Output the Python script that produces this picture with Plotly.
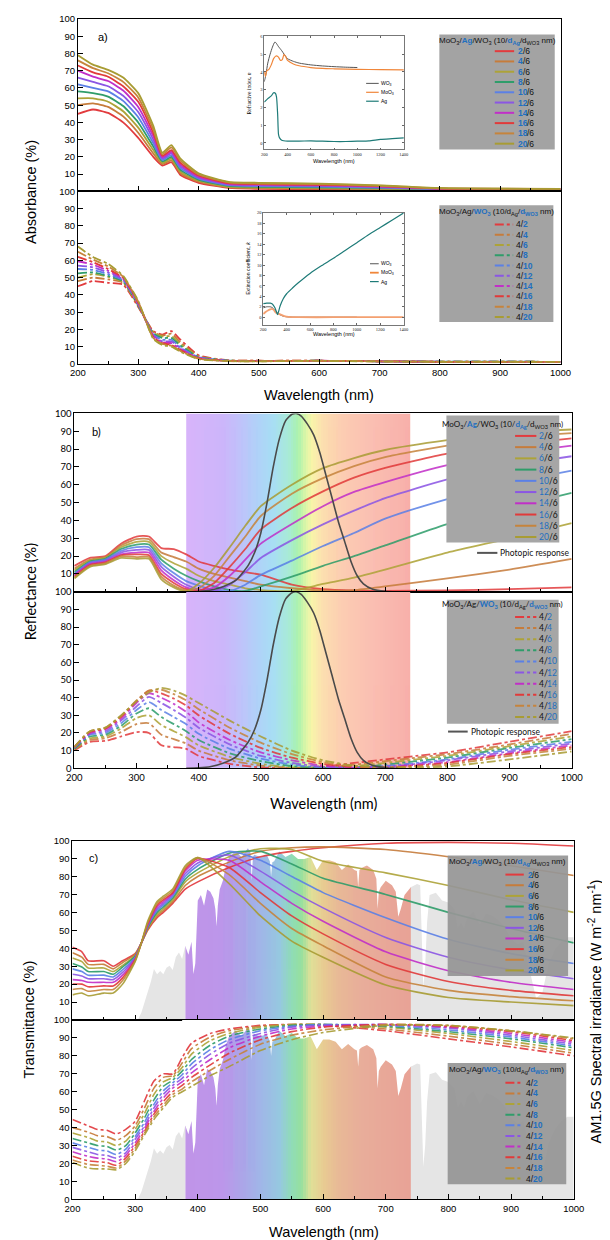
import plotly.graph_objects as go

W, H = 610, 1240
BLUE = '#1f6fc0'
SANS = 'Liberation Sans, Arial, sans-serif'
CAL = 'Lato, Open Sans, sans-serif'

# ---------------- data ----------------
d_ag = [2, 4, 6, 8, 10, 12, 14, 16, 18, 20]
d_wo3 = [2, 4, 6, 8, 10, 12, 14, 16, 18, 20]

# a) absorbance, varying Ag
wl_a = [200, 225, 250, 275, 300, 325, 340, 355, 370, 400, 450, 500, 600, 700, 800, 1000]
abs_ag = [
    [45, 47.5, 45.5, 40, 31, 20, 15, 16.9, 9.5, 5, 2, 1.5, 1.2, 1, 0.8, 0.7],
    [50, 51, 49, 43.5, 34, 22, 15.8, 18, 10.5, 5.6, 2.4, 1.9, 1.6, 1.3, 1, 0.8],
    [54, 54, 52, 46.5, 37, 24, 16.6, 19, 11.5, 6.2, 2.8, 2.3, 2, 1.6, 1.2, 0.9],
    [58, 57, 55, 49.5, 40, 26, 17.4, 20, 12.5, 6.8, 3.2, 2.7, 2.4, 1.9, 1.3, 1],
    [62, 60, 58, 52.5, 43, 28, 18.2, 21, 13.5, 7.4, 3.6, 3.1, 2.8, 2.2, 1.4, 1.1],
    [66, 63.5, 61, 55.5, 46, 30, 19, 22, 14.5, 8, 4, 3.5, 3.2, 2.5, 1.5, 1.2],
    [70, 66.5, 64, 58.5, 49, 32, 19.8, 23, 15.5, 8.6, 4.4, 3.9, 3.5, 2.8, 1.6, 1.3],
    [73, 69, 66.5, 61, 52, 34, 20.6, 24, 16.5, 9.2, 4.8, 4.2, 3.8, 3.1, 1.7, 1.4],
    [76, 71.5, 68.5, 63.5, 54.5, 36, 21.5, 25.5, 17.8, 9.8, 5.2, 4.6, 4.2, 3.3, 1.8, 1.5],
    [79, 73.5, 70.5, 66, 57, 38, 22.5, 26.8, 19, 10.5, 5.5, 5, 4.5, 3.5, 2, 1.5],
]
# a) absorbance, varying WO3
abs_wo3 = [
    [45, 48, 47, 46, 33, 19, 17, 19, 14, 5, 2, 1.8, 1.8, 1.5, 1.3, 1.2],
    [48, 50, 49, 47, 33.5, 18.5, 16.5, 17.5, 12.5, 4.5, 2, 1.8, 1.8, 1.5, 1.3, 1.2],
    [50, 52, 50.5, 47.5, 34, 18, 16, 16, 11.5, 4.2, 1.9, 1.7, 1.8, 1.5, 1.3, 1.2],
    [52.5, 53, 51, 48, 34, 17.5, 15, 15, 10.5, 4, 1.9, 1.7, 1.8, 1.5, 1.3, 1.2],
    [55, 54.5, 52, 48.5, 34.5, 17, 14, 14, 9.5, 3.8, 1.8, 1.7, 1.8, 1.5, 1.3, 1.2],
    [57, 56, 53, 49, 35, 16.5, 13, 13, 9, 3.6, 1.8, 1.6, 1.8, 1.5, 1.2, 1.1],
    [59.5, 57.5, 54, 49.5, 35, 16, 12.5, 12, 8.5, 3.4, 1.7, 1.6, 1.8, 1.5, 1.2, 1.1],
    [62, 59, 55, 50, 35.5, 15.5, 12, 11, 8, 3.2, 1.7, 1.6, 1.8, 1.5, 1.2, 1.1],
    [65, 60.5, 56.5, 50.5, 36, 15, 11.5, 10.5, 7.5, 3, 1.6, 1.5, 1.8, 1.5, 1.2, 1.1],
    [68, 62, 58, 51, 36.5, 14.5, 11, 10, 7, 2.8, 1.6, 1.5, 1.7, 1.4, 1.2, 1.1],
]

# insets: refractive index n and extinction coefficient k
n_wl_wo3 = [200, 215, 230, 250, 270, 290, 300, 320, 350, 400, 450, 500, 600, 700, 800, 900, 1000]
n_wo3 = [3.45, 3.9, 4.5, 5.0, 5.4, 5.68, 5.65, 5.45, 5.2, 4.75, 4.6, 4.5, 4.4, 4.34, 4.3, 4.27, 4.25]
n_wl_moo3 = [200, 210, 220, 240, 260, 280, 300, 320, 340, 355, 370, 385, 400, 450, 500, 600, 700, 800, 1000, 1200, 1400]
n_moo3 = [4.0, 3.75, 4.05, 4.15, 4.4, 4.75, 4.9, 4.85, 4.65, 4.7, 5.0, 4.85, 4.65, 4.45, 4.35, 4.25, 4.2, 4.18, 4.15, 4.13, 4.12]
n_wl_ag = [200, 230, 260, 280, 295, 305, 315, 322, 330, 350, 400, 500, 600, 700, 800, 900, 1000, 1100, 1200, 1300, 1400]
n_ag = [2.3, 2.5, 2.65, 2.83, 2.8, 2.6, 1.6, 0.5, 0.3, 0.15, 0.1, 0.1, 0.12, 0.1, 0.08, 0.08, 0.1, 0.12, 0.2, 0.24, 0.28]
k_wl_ag = [200, 230, 260, 280, 300, 315, 322, 330, 345, 370, 400, 450, 500, 600, 700, 800, 900, 1000, 1100, 1200, 1300, 1400]
k_ag = [2.6, 2.7, 2.7, 2.5, 1.8, 0.9, 0.5, 1.0, 2.2, 3.5, 4.5, 5.6, 6.6, 8.4, 9.9, 11.3, 12.8, 14.3, 15.8, 17.2, 18.6, 20.0]
k_wl_wo3 = [200, 230, 260, 280, 300, 320, 340, 370, 400, 450, 500, 700, 1000]
k_wo3 = [1.8, 2.0, 2.0, 1.8, 1.3, 0.8, 0.5, 0.2, 0.08, 0.02, 0, 0, 0]
k_wl_moo3 = [200, 220, 240, 260, 275, 290, 305, 320, 340, 360, 380, 400, 450, 500, 800, 1100, 1400]
k_moo3 = [0.6, 1.0, 1.3, 1.5, 1.6, 1.4, 0.9, 0.8, 0.6, 0.4, 0.2, 0.1, 0.03, 0, 0, 0, 0]

# b) reflectance
wl_b = [200, 225, 250, 275, 300, 320, 340, 360, 380, 400, 425, 450, 475, 500, 550, 600, 650, 700, 800, 900, 1000]
refl_ag = [
    [14.5, 19, 20, 27, 31, 31, 24.5, 24, 21, 17, 14.5, 12.5, 11, 9.6, 4, 1.5, 0.7, 0.5, 0.8, 1.5, 2.5],
    [13, 18, 19.5, 26, 29.5, 29.5, 22, 19.5, 17, 13, 10, 8, 6, 4, 2, 0.8, 1, 3, 7.5, 12.5, 18.5],
    [12, 17.5, 19, 25, 28, 28, 20, 16, 13, 9, 6, 4, 2, 1, 0.5, 4.4, 8, 12.5, 22, 30, 38.5],
    [11, 17, 18.5, 24, 26.5, 26.5, 18, 13, 9, 6, 3, 1, 0.5, 3, 8.5, 14.6, 20, 26, 38, 47, 55.5],
    [10, 16.5, 18, 23, 25, 25, 16, 10.5, 6, 3.5, 1, 0.5, 4, 9.5, 17.5, 25.7, 33, 41, 52, 61, 68],
    [9.5, 16, 17.5, 22, 23.5, 23.5, 14, 8.5, 4, 1.5, 0.5, 4, 11, 19, 29, 37.8, 45.5, 52.5, 63, 70.5, 76],
    [9, 15.5, 17, 21, 22, 22, 12, 6.5, 2.5, 0.8, 2.5, 9, 18, 27, 38, 48, 56, 61.5, 71, 77.5, 82],
    [8.5, 15, 16.5, 20.5, 21, 20.5, 10, 5, 1.5, 0.5, 5, 14, 24, 35, 47, 56.3, 64, 69.5, 77.5, 82.5, 86],
    [8, 14.5, 16, 20, 19.5, 19.5, 8.5, 3.5, 0.8, 2, 9, 20, 31, 42.5, 55, 63.7, 70.5, 75.5, 82, 86.5, 89],
    [7.5, 14, 15.5, 19, 18.5, 18.5, 7, 2.5, 0.3, 4.5, 13.5, 25, 37, 48, 60, 69.3, 75, 79.5, 85, 89, 91],
]
wl_b2 = [200, 225, 250, 275, 300, 320, 340, 360, 380, 400, 450, 500, 550, 600, 650, 700, 750, 800, 900, 1000]
refl_wo3 = [
    [10, 15, 15.5, 18, 20.5, 20, 13, 12, 11, 7, 2.5, 0.5, 0, 1, 3, 5, 7, 9, 15, 21],
    [10.5, 16, 17, 20.5, 25, 25.5, 19, 16.5, 14, 10, 4.5, 1.5, 0.2, 0.5, 2, 4, 6, 8, 13.5, 19.5],
    [11, 17, 18, 22.5, 28.5, 30, 24.5, 21, 17.5, 13, 6.5, 2.5, 0.5, 0.2, 1.2, 3, 5, 7, 12.5, 18],
    [11, 18, 19, 24, 31, 34, 29, 25, 21, 16, 8.5, 4, 1.2, 0.2, 0.6, 2, 4, 6, 11.5, 16.5],
    [11.5, 19, 20, 25.5, 33, 37.5, 33, 29, 25, 19.5, 11, 5.5, 2, 0.4, 0.3, 1.3, 3, 5, 10.5, 15],
    [11.5, 19.5, 21, 27, 35, 40.5, 37, 33, 28.5, 23, 13.5, 7, 3, 0.8, 0.2, 0.8, 2.5, 4.5, 9.5, 14],
    [12, 20, 22, 28, 37, 42.5, 40, 36.5, 32, 26, 16, 9, 4.5, 1.5, 0.3, 0.5, 2, 3.5, 8.5, 13],
    [12, 20.5, 22.5, 29, 38, 44, 42.5, 39.5, 35.5, 30, 19.5, 11.5, 6, 2.5, 0.6, 0.3, 1.5, 3, 8, 12],
    [12, 21, 23, 29.5, 38.5, 44, 44.5, 42, 38.5, 33.5, 23, 14.5, 8, 3.5, 1, 0.4, 1, 2, 7, 11],
    [12, 21, 23, 30, 38, 43, 45.5, 44, 41, 37, 27, 18, 10, 4.5, 1.5, 0.5, 0.5, 1, 5, 9.5],
]
wl_ph = [380, 400, 420, 440, 460, 480, 490, 500, 510, 520, 530, 540, 550, 557, 565, 575, 585, 595, 605, 615, 625, 635, 645, 655, 665, 680, 700, 720]
photopic = [0, 0.2, 1, 3, 6.5, 15, 22, 33, 50, 70, 86, 96, 99.5, 100, 98.5, 94, 88, 78, 65, 52, 39, 28, 17, 9, 4.5, 1.5, 0.3, 0]

# c) transmittance
wl_c = [200, 215, 225, 250, 265, 280, 300, 310, 320, 335, 345, 360, 380, 400, 450, 500, 550, 600, 700, 800, 900, 1000]
trans_ag = [
    [40.5, 38, 33, 33, 30, 33, 37, 43, 50, 57, 60, 65, 73, 77, 85, 91, 94, 96, 98.5, 99, 98.5, 97],
    [37.5, 35, 31, 31, 28.5, 32, 36.5, 43, 50.5, 58, 61, 66, 75, 80, 88, 94, 96, 96.5, 95, 91, 86, 80.5],
    [34.5, 32.5, 29, 29, 27, 30.5, 36, 43, 51, 59, 62, 67, 77, 82, 91, 95.5, 95, 88.5, 82, 75, 67, 60],
    [31.5, 29.5, 27, 27, 25.5, 29.5, 35.5, 43, 51.5, 60, 63, 68, 78.5, 84, 93, 94, 87, 79, 70, 60, 51, 43],
    [28.5, 27, 25, 25, 24, 28, 35, 43, 52, 61, 64, 69, 80, 86, 94, 89, 80, 71, 57, 45, 37, 31.5],
    [25.5, 24.5, 23, 23, 22.5, 26.5, 34.5, 43, 52.5, 62, 65, 70, 81.5, 87.5, 92, 83, 72, 62.5, 46, 35, 28, 23],
    [22.5, 22, 21, 21, 21, 25, 34, 43, 53, 63, 66, 70.5, 83, 89, 89, 77, 65, 55, 38, 27.5, 21, 17],
    [20, 20, 18.5, 19, 19, 23.5, 33.5, 43, 53.5, 64, 67, 71, 84, 90, 85, 71, 58, 48, 31, 21.5, 16.5, 13.5],
    [17, 17.5, 16, 17, 17, 22, 33, 43, 54, 65, 68, 72, 85, 90.5, 81, 65, 51, 41.4, 24, 16.5, 13, 10.7],
    [14, 15, 13.5, 15, 15, 20, 32.5, 43, 55, 66, 69, 73, 86, 90.5, 76, 58, 44, 35, 19.5, 12.5, 10, 8],
]
wl_c2 = [200, 225, 240, 255, 270, 285, 300, 315, 330, 345, 360, 375, 390, 420, 450, 500, 550, 600, 700, 800, 900, 1000]
trans_wo3 = [
    [44.5, 41, 39, 38.5, 36.5, 39, 43.5, 55, 66, 70, 70, 79, 87, 92.5, 95, 97, 97.5, 97, 94, 89.5, 85, 80],
    [40, 37.5, 35.5, 35, 33, 35.5, 41, 51, 62, 68, 69, 76, 84, 90.5, 94, 96.5, 97.5, 97.5, 95, 91, 86.5, 81.5],
    [37, 34.5, 32.5, 32, 30, 32.5, 39, 48, 58.5, 65.5, 68, 73.5, 81, 88.5, 92.5, 96, 97.5, 97.5, 96, 92.5, 88, 83],
    [34, 31.5, 30, 29.5, 27.5, 30, 37, 45.5, 55.5, 63, 66.5, 71.5, 78, 86, 91, 95, 97, 97.5, 96.5, 93.5, 89.5, 84.5],
    [31.5, 29, 27.5, 27, 25, 28, 35, 43, 53, 60.5, 65, 69.5, 75.5, 83.5, 89, 94, 96.5, 97.5, 97, 94.5, 90.5, 85.5],
    [29, 26.5, 25, 24.5, 23, 26, 33.5, 41, 51, 58.5, 63.5, 67.5, 73, 81, 87, 92.5, 96, 97, 97.5, 95.5, 91.5, 86.5],
    [26.5, 24, 23, 22.5, 21, 24.5, 31.5, 39.5, 49, 56.5, 62, 65.5, 70.5, 78, 84.5, 91, 95, 96.5, 97.5, 96, 92.5, 87.5],
    [24, 21.5, 21, 20.5, 19, 23, 30, 38, 47.5, 54.5, 60, 63.5, 68, 75, 81.5, 89, 93.5, 96, 97.5, 96.5, 93.5, 88.5],
    [22, 19.5, 19, 18.5, 17.5, 21.5, 28.5, 37, 46, 52.5, 58.5, 61.5, 65.5, 72, 78, 86.5, 91.5, 94.5, 97.5, 97, 94, 89.5],
    [20.5, 17.5, 17, 17, 16.5, 20, 27, 36, 44.5, 51, 57, 60, 63, 69, 74, 83, 89, 93, 97, 97, 94, 90],
]
# AM1.5G spectral irradiance (W m-2 nm-1)
sol_wl = [300, 305, 310, 315, 320, 325, 330, 335, 340, 345, 350, 355, 360, 365, 370, 375, 380, 385, 390, 393, 396,
          400, 405, 410, 415, 420, 425, 428, 430, 432, 435, 440, 445, 450, 460, 470, 480, 484, 486, 488, 490, 500,
          510, 515, 517, 519, 522, 530, 540, 550, 560, 570, 580, 590, 600, 610, 620, 630, 640, 650, 654, 656, 658,
          662, 670, 680, 685, 687, 689, 692, 700, 710, 716, 720, 724, 730, 740, 750, 755, 760, 763, 766, 770, 780,
          790, 800, 810, 815, 820, 825, 830, 840, 850, 860, 870, 880, 890, 900, 910, 920, 930, 940, 950, 960, 970,
          980, 990, 1000]
sol_val = [0.0, 0.01, 0.07, 0.16, 0.26, 0.35, 0.47, 0.42, 0.45, 0.42, 0.48, 0.5, 0.46, 0.58, 0.62, 0.56, 0.68, 0.6, 0.72, 0.42, 0.52,
           1.1, 1.15, 1.05, 1.2, 1.18, 1.12, 1.02, 0.86, 1.05, 1.2, 1.28, 1.42, 1.5, 1.55, 1.5, 1.58, 1.54, 1.28, 1.5, 1.52, 1.5,
           1.52, 1.46, 1.32, 1.45, 1.46, 1.55, 1.5, 1.53, 1.48, 1.48, 1.5, 1.38, 1.47, 1.47, 1.45, 1.38, 1.43, 1.38, 1.37, 1.22, 1.38,
           1.4, 1.42, 1.38, 1.3, 1.02, 1.18, 1.22, 1.28, 1.24, 1.18, 0.95, 1.02, 1.15, 1.22, 1.25, 1.24, 0.3, 0.5, 0.9, 1.15, 1.17,
           1.1, 1.08, 1.02, 0.85, 0.9, 0.85, 0.95, 1.0, 0.88, 0.98, 0.96, 0.92, 0.86, 0.75, 0.7, 0.72, 0.45, 0.2, 0.25, 0.52, 0.65,
           0.72, 0.76, 0.76]

# ---------------- styles ----------------
colors = ['#e23b3e', '#c67c3b', '#ada338', '#2f9d6a', '#5b80e6', '#8b56e4', '#c12fc8', '#e13a3a', '#c6843c', '#a89c33']
rb_b = [(380, '#d8b4fa'), (440, '#ccb6fa'), (470, '#bec4fa'), (495, '#b0d2f8'), (520, '#a8def4'), (545, '#a8ebd6'),
        (560, '#acf2ac'), (572, '#dcf6aa'), (582, '#f8f4aa'), (600, '#fcdeb0'), (630, '#fccdb2'), (680, '#fabeb2'), (740, '#f8b0aa')]
rb_c = [(380, '#c094e8'), (440, '#bc96ea'), (470, '#aca5e8'), (500, '#a0b6e8'), (530, '#96c8e0'), (550, '#90dcb6'),
        (565, '#96e09e'), (580, '#e0e098'), (600, '#e8cc92'), (625, '#e8b996'), (660, '#e8ad9a'), (740, '#e8a296')]
SOL_TOP = 1.65


def px(x):
    return x / W


def py(y):
    return 1 - y / H


A_X = [px(64), px(563)]
A_UP, A_LO = [py(179), py(5)], [py(353), py(179)]
B_X = [px(60.3), px(574.5)]
B_UP, B_LO = [py(583), py(403)], [py(761), py(583)]
C_X = [px(58.4), px(576.6)]
C_UP, C_LO = [py(1015), py(834)], [py(1196), py(1015)]

fig = go.Figure()
shapes, annos = [], []


def line_trace(x, y, xa, ya, color, width=1.8, dash='solid', opacity=1.0, smooth=0.6):
    fig.add_trace(go.Scatter(x=x, y=y, xaxis=xa, yaxis=ya, mode='lines', opacity=opacity,
                             line=dict(color=color, width=width, dash=dash, shape='spline', smoothing=smooth),
                             showlegend=False, hoverinfo='skip'))


# ---- panel a ----
for i in range(10):
    line_trace(wl_a, abs_ag[i], 'x', 'y', colors[i], 1.8, smooth=0.5)
for i in range(10):
    line_trace(wl_a, abs_wo3[i], 'x2', 'y2', colors[i], 1.8, dash='dashdot', smooth=0.5)

# insets
INS_C = {'WO3': '#555555', 'MoO3': '#f0863a', 'Ag': '#1e7b78'}
line_trace(n_wl_wo3, n_wo3, 'x9', 'y9', INS_C['WO3'], 1.0)
line_trace(n_wl_moo3, n_moo3, 'x9', 'y9', INS_C['MoO3'], 1.2)
line_trace(n_wl_ag, n_ag, 'x9', 'y9', INS_C['Ag'], 1.2)
line_trace(k_wl_wo3, k_wo3, 'x10', 'y10', INS_C['WO3'], 1.0)
line_trace(k_wl_moo3, k_moo3, 'x10', 'y10', '#f4a070', 1.8)
line_trace(k_wl_ag, k_ag, 'x10', 'y10', INS_C['Ag'], 1.2)


# ---- rainbow heatmaps ----
def rainbow(stops, xa, ya, y_edges):
    edges = list(range(380, 741, 4))
    mids = [(a + b) / 2 for a, b in zip(edges[:-1], edges[1:])]
    cs = [[(w - 380) / 360, c] for w, c in stops]
    fig.add_trace(go.Heatmap(x=edges, y=y_edges, z=[mids], colorscale=cs, zmin=380, zmax=740,
                             showscale=False, hoverinfo='skip', xaxis=xa, yaxis=ya))


rainbow(rb_b, 'x3', 'y3', [0, 100])
rainbow(rb_b, 'x4', 'y4', [0, 100])

# ---- panel b ----
for i in range(10):
    line_trace(wl_b, refl_ag[i], 'x3', 'y3', colors[i], 1.8, opacity=0.85)
line_trace(wl_ph, photopic, 'x3', 'y3', '#4a4a4a', 1.6)
for i in range(10):
    line_trace(wl_b2, refl_wo3[i], 'x4', 'y4', colors[i], 1.8, dash='dashdot', opacity=0.85)
line_trace(wl_ph, photopic, 'x4', 'y4', '#4a4a4a', 1.6)

# ---- panel c: solar spectrum ----
mask_w = [w for w in sol_wl if 375 <= w <= 750]
mask_v = [v for w, v in zip(sol_wl, sol_val) if 375 <= w <= 750]
left_w = [w for w in sol_wl if w <= 380]
left_v = [v for w, v in zip(sol_wl, sol_val) if w <= 380]
right_w = [w for w in sol_wl if w >= 740]
right_v = [v for w, v in zip(sol_wl, sol_val) if w >= 740]
for xa, ya in (('x5', 'y5'), ('x6', 'y6')):
    rainbow(rb_c, xa, ya, [0, SOL_TOP])
    fig.add_trace(go.Scatter(x=mask_w, y=[SOL_TOP] * len(mask_w), xaxis=xa, yaxis=ya, mode='lines',
                             line=dict(width=0), showlegend=False, hoverinfo='skip'))
    fig.add_trace(go.Scatter(x=mask_w, y=mask_v, xaxis=xa, yaxis=ya, mode='lines', fill='tonexty',
                             fillcolor='white', line=dict(width=0), showlegend=False, hoverinfo='skip'))
    for ww, vv in ((left_w, left_v), (right_w, right_v)):
        fig.add_trace(go.Scatter(x=ww, y=vv, xaxis=xa, yaxis=ya, mode='lines', fill='tozeroy',
                                 fillcolor='#e5e5e5', line=dict(width=0), showlegend=False, hoverinfo='skip'))

for i in range(10):
    line_trace(wl_c, trans_ag[i], 'x5', 'y7', colors[i], 1.6, opacity=0.9)
for i in range(10):
    line_trace(wl_c2, trans_wo3[i], 'x6', 'y8', colors[i], 1.6, dash='dashdot', opacity=0.9)


# ---------------- axes ----------------
def xax(domain, anchor, labels, font):
    return dict(domain=domain, anchor=anchor, range=[200, 1000], tick0=200, dtick=100, ticks='inside',
                ticklen=5, tickwidth=1, tickcolor='#000', showline=True, linecolor='#000', linewidth=1,
                mirror=True, showticklabels=labels, tickfont=dict(family=font, size=9.5, color='#000'),
                showgrid=False, zeroline=False,
                minor=dict(dtick=50, tick0=200, ticks='inside', ticklen=3, tickcolor='#000', showgrid=False))


def yax(domain, anchor, lower, font, rng=(0, 100)):
    vals = list(range(0, 101, 10)) if lower else list(range(10, 101, 10))
    return dict(domain=domain, anchor=anchor, range=list(rng), tickvals=vals, ticks='inside', ticklen=5,
                tickcolor='#000', showline=True, linecolor='#000', linewidth=1, mirror=True,
                tickfont=dict(family=font, size=9.5, color='#000'), showgrid=False, zeroline=False)


def sol_ax(domain, anchor):
    return dict(domain=domain, anchor=anchor, range=[0, SOL_TOP], showticklabels=False, ticks='',
                showline=True, linecolor='#000', linewidth=1, mirror=True, showgrid=False, zeroline=False)


def over_ax(base, anchor, lower):
    d = yax(None, anchor, lower, SANS)
    d.pop('domain')
    d.update(overlaying=base, side='left', mirror=False)
    return d


def inset_ax(domain, anchor, rng, vals):
    return dict(domain=domain, anchor=anchor, range=rng, tickvals=vals, ticks='inside', ticklen=2,
                tickcolor='#666', showline=True, linecolor='#777', linewidth=0.8, mirror='ticks',
                tickfont=dict(family='Liberation Serif', size=4.5, color='#222'), showgrid=False,
                zeroline=False)


fig.update_layout(
    xaxis=xax(A_X, 'y', False, SANS), yaxis=yax(A_UP, 'x', False, SANS),
    xaxis2=xax(A_X, 'y2', True, SANS), yaxis2=yax(A_LO, 'x2', True, SANS),
    xaxis3=xax(B_X, 'y3', False, CAL), yaxis3=yax(B_UP, 'x3', False, CAL),
    xaxis4=xax(B_X, 'y4', True, CAL), yaxis4=yax(B_LO, 'x4', True, CAL),
    xaxis5=xax(C_X, 'y5', False, SANS), yaxis5=sol_ax(C_UP, 'x5'),
    xaxis6=xax(C_X, 'y6', True, SANS), yaxis6=sol_ax(C_LO, 'x6'),
    yaxis7=over_ax('y5', 'x5', False), yaxis8=over_ax('y6', 'x6', True),
    xaxis9=inset_ax([px(256.7), px(401)], 'y9', [200, 1400], list(range(200, 1401, 200))),
    yaxis9=inset_ax([py(136.7), py(22.7)], 'x9', [-0.37, 6], list(range(0, 7))),
    xaxis10=inset_ax([px(255.6), px(400.8)], 'y10', [200, 1400], list(range(200, 1401, 200))),
    yaxis10=inset_ax([py(313.3), py(200.7)], 'x10', [-1.4, 20], list(range(0, 21, 2))),
)


# ---------------- text ----------------
def txt(text, x, y, size, family=SANS, angle=0, xanchor='center', color='#000', weight='normal'):
    annos.append(dict(text=text, x=px(x), y=py(y), xref='paper', yref='paper', showarrow=False,
                      textangle=angle, xanchor=xanchor, yanchor='middle', borderpad=0,
                      font=dict(family=family, size=size, color=color, weight=weight)))


txt('Absorbance (%)', 16, 179, 14.5, angle=-90)
txt('Wavelength (nm)', 313.5, 384, 14.5)
txt('a)', 84, 23, 11, xanchor='left')
txt('Reflectance (%)', 15, 583, 14.5, family=CAL, angle=-90)
txt('Wavelength (nm)', 318, 797, 14.5, family=CAL)
txt('b)', 78, 421, 11, family=CAL, xanchor='left')
txt('Transmittance (%)', 13, 1015, 14.5, angle=-90)
txt('Wavelength (nm)', 318, 1229, 14.5)
txt('c)', 74, 852, 11, xanchor='left')
txt('AM1.5G Spectral irradiance (W m<sup>-2</sup> nm<sup>-1</sup>)', 599, 1006, 14.5, angle=-90)

# inset titles
txt('Wavelength (nm)', 329, 148, 5.5, family='Liberation Sans')
txt('Refractive index, <i>n</i>', 241, 80, 5.5, family='Liberation Serif', angle=-90)
txt('Wavelength (nm)', 329, 323, 5.5, family='Liberation Sans')
txt('Extinction coefficient, <i>k</i>', 240, 257, 5.2, family='Liberation Sans', angle=-90)


def inset_legend(ys, x0, x1, tx, widths):
    names = ['WO<sub>3</sub>', 'MoO<sub>3</sub>', 'Ag']
    cols = [INS_C['WO3'], INS_C['MoO3'], INS_C['Ag']]
    for y, nm, c, w in zip(ys, names, cols, widths):
        shapes.append(dict(type='line', xref='paper', yref='paper', x0=px(x0), x1=px(x1), y0=py(y), y1=py(y),
                           line=dict(color=c, width=w)))
        txt(nm, tx, y, 5, xanchor='left')


inset_legend([70, 79, 88], 362, 375, 376, [1, 1.2, 1.2])
inset_legend([252, 261, 270], 366, 375, 376, [1, 1.8, 1.2])


def span(s):
    return "<b><span style='color:%s'>%s</span></b>" % (BLUE, s)


def manual_legend(box, title, title_y, values, fixed_first, dash, lx, tx, y0, dy, family, tsize, isize,
                  bg, digit_w, slash_w, bold):
    shapes.append(dict(type='rect', xref='paper', yref='paper', x0=px(box[0]), x1=px(box[2]),
                       y0=py(box[3]), y1=py(box[1]), fillcolor=bg, line=dict(width=0), layer='above'))
    txt(title, (box[0] + box[2]) / 2, title_y, tsize, family=family, color='#111')
    wt = 'bold' if bold else 'normal'
    for i, v in enumerate(values):
        y = y0 + i * dy
        shapes.append(dict(type='line', xref='paper', yref='paper', x0=px(lx[0]), x1=px(lx[1]),
                           y0=py(y), y1=py(y), line=dict(color=colors[i], width=2, dash=dash)))
        num = str(v)
        if fixed_first:   # "4/<num>"
            txt('4/', tx, y, isize, family=family, xanchor='left', color='#111')
            txt(num, tx + digit_w + slash_w, y, isize, family=family, xanchor='left', color=BLUE, weight=wt)
        else:             # "<num>/6"
            txt(num, tx, y, isize, family=family, xanchor='left', color=BLUE, weight=wt)
            txt('/6', tx + digit_w * len(num), y, isize, family=family, xanchor='left', color='#111')


t_ag = ("MoO<sub>3</sub>/" + span('Ag') + "/WO<sub>3</sub> (10/" + span('d<sub>Ag</sub>') +
        "/d<sub>WO3</sub> nm)")
t_wo = ("MoO<sub>3</sub>/Ag/" + span('WO<sub>3</sub>') + " (10/d<sub>Ag</sub>/" + span('d<sub>WO3</sub>') +
        " nm)")

manual_legend((437.7, 20.7, 557, 136.7), t_ag, 27, d_ag, False, 'solid', (495, 515), 518, 37.5, 10.37,
              SANS, 8, 8.5, '#a3a3a3', 4.9, 2.4, True)
manual_legend((437.7, 193, 555.6, 310.7), t_wo, 199.5, d_wo3, True, 'dashdot', (495, 514), 516, 212.3, 10.37,
              SANS, 8, 8.5, '#a3a3a3', 4.7, 2.4, True)
manual_legend((445, 405, 561.7, 533.3), t_ag, 414, d_ag, False, 'solid', (516, 538), 540, 425.7, 11.33,
              CAL, 8, 8.5, '#a6a6a6', 4.9, 3.0, False)
manual_legend((445.5, 591, 561, 716), t_wo, 596, d_wo3, True, 'dashdot', (516, 538), 540, 608.3, 11.22,
              CAL, 8, 8.5, '#a6a6a6', 4.9, 3.0, False)
manual_legend((446.3, 849, 570.8, 970.7), t_ag, 856, d_ag, False, 'solid', (506, 525), 528, 868.3, 10.74,
              SANS, 8, 8.5, 'rgba(150,150,150,0.93)', 4.9, 2.4, True)
manual_legend((446.3, 1058.3, 568.9, 1180.7), t_wo, 1065, d_wo3, True, 'dashdot', (506, 523), 526, 1078.3,
              10.74, SANS, 8, 8.5, 'rgba(150,150,150,0.93)', 4.7, 2.4, True)

# photopic response entries
for yy, x0, x1, tx in ((543.7, 476.7, 497.7, 499), (724, 446.7, 467, 469)):
    shapes.append(dict(type='line', xref='paper', yref='paper', x0=px(x0), x1=px(x1), y0=py(yy), y1=py(yy),
                       line=dict(color='#555555', width=2)))
    txt('Photopic response', tx, yy, 8.5, family=CAL, xanchor='left', color='#111')

fig.update_layout(width=W, height=H, margin=dict(l=0, r=0, t=0, b=0), paper_bgcolor='white',
                  plot_bgcolor='white', showlegend=False, shapes=shapes, annotations=annos)

fig.write_html('out.html', config={'displayModeBar': False})
